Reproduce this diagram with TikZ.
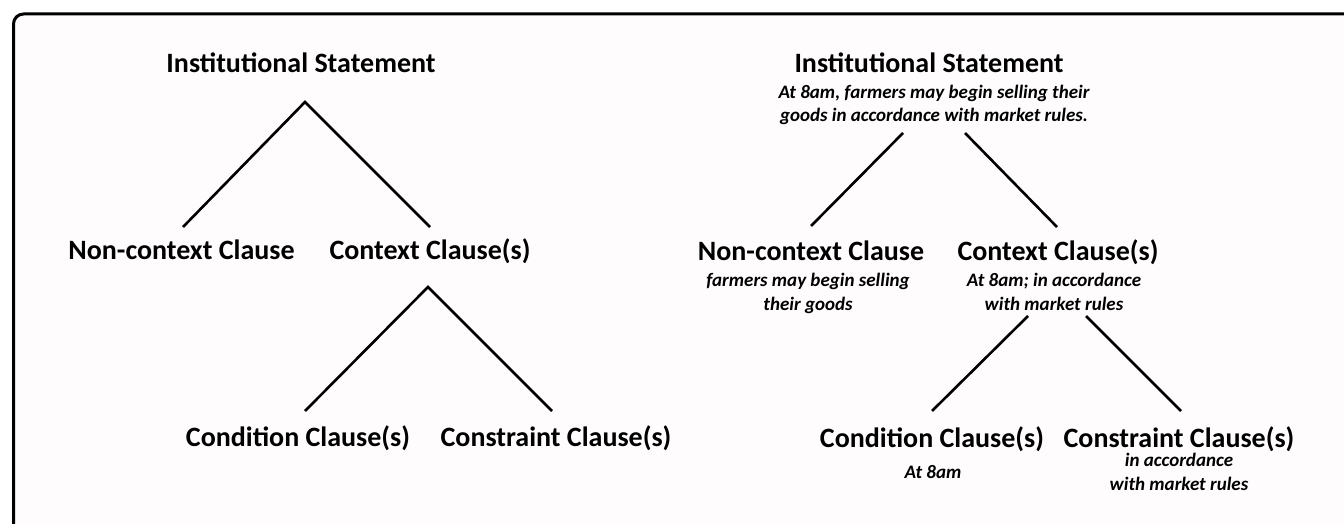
\documentclass[tikz,border=0pt]{standalone}
\usepackage{fontspec}
\setmainfont{Carlito}
\usetikzlibrary{positioning}
\definecolor{panelbg}{RGB}{254,252,253}
\tikzset{
    head/.style={font=\fontsize{28}{34}\selectfont\bfseries, inner sep=0pt, anchor=base},
    gloss/.style={font=\fontsize{19}{24}\selectfont\bfseries\itshape, inner sep=0pt, align=center, anchor=base},
    branch/.style={line width=2.6pt},
}

\begin{document}
\begin{tikzpicture}[x=1pt, y=-1pt]
    \useasboundingbox (0,0) rectangle (1344,524);
    \clip (0,0) rectangle (1344,524);
    % Panel
    \draw[line width=3pt, fill=panelbg, rounded corners=10pt] (13.5,14) rectangle (1370,560);

    % Plain tree
    \node[head] (instL) at (301,73) {Institutional Statement};
    \node[head] (ncL) at (181.5,259) {Non-context Clause};
    \node[head] (cxL) at (430,259) {Context Clause(s)};
    \node[head] (cdL) at (298,446) {Condition Clause(s)};
    \node[head] (csL) at (556,446) {Constraint Clause(s)};

    \coordinate (topL) at (305,102);
    \coordinate (ncLup) at (183,227);
    \coordinate (cxLup) at (430,227);
    \coordinate (midL) at (428,287);
    \coordinate (cdLup) at (305,411);
    \coordinate (csLup) at (552,411);
    \draw[branch] (ncLup) -- (topL) -- (cxLup);
    \draw[branch] (cdLup) -- (midL) -- (csLup);

    % Tree with example
    \node[head] (instR) at (929,73) {Institutional Statement};
    \node[gloss] (instRex) at (934,122) {At 8am, farmers may begin selling their\\goods in accordance with market rules.};
    \node[head] (ncR) at (811,260) {Non-context Clause};
    \node[gloss] (ncRex) at (808,310) {farmers may begin selling\\their goods};
    \node[head] (cxR) at (1058,260) {Context Clause(s)};
    \node[gloss] (cxRex) at (1054,310) {At 8am; in accordance\\with market rules};
    \node[head] (cdR) at (932,447) {Condition Clause(s)};
    \node[gloss] (cdRex) at (933,478) {At 8am};
    \node[head] (csR) at (1179,447) {Constraint Clause(s)};
    \node[gloss] (csRex) at (1179,490) {in accordance\\with market rules};

    \coordinate (instRl) at (903,133);
    \coordinate (instRr) at (965,133);
    \coordinate (ncRup) at (811,226);
    \coordinate (cxRup) at (1057,227);
    \coordinate (cxRl) at (1028,316);
    \coordinate (cxRr) at (1086,316);
    \coordinate (cdRup) at (932,411);
    \coordinate (csRup) at (1181,411);
    \draw[branch] (instRl) -- (ncRup);
    \draw[branch] (instRr) -- (cxRup);
    \draw[branch] (cxRl) -- (cdRup);
    \draw[branch] (cxRr) -- (csRup);
\end{tikzpicture}
\end{document}
